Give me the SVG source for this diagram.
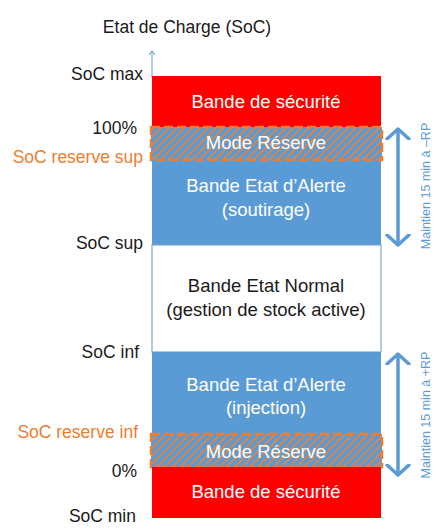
<svg xmlns="http://www.w3.org/2000/svg" width="437" height="530" viewBox="0 0 437 530">
  <defs>
    <pattern id="hatch" patternUnits="userSpaceOnUse" width="5.5" height="5.5" patternTransform="rotate(45)">
      <rect width="5.5" height="5.5" fill="#5B9BD5"/>
      <line x1="1" y1="0" x2="1" y2="5.5" stroke="#E8823A" stroke-width="1.7"/>
    </pattern>
    <marker id="axisHead" markerWidth="8" markerHeight="8" refX="4" refY="4" orient="auto" markerUnits="userSpaceOnUse">
      <path d="M0,1 L4,4 L0,7" fill="none" stroke="#5B9BD5" stroke-width="1"/>
    </marker>
    <marker id="chev" markerWidth="14" markerHeight="26" refX="10" refY="13" orient="auto-start-reverse" markerUnits="userSpaceOnUse">
      <path d="M1,2 L11,13 L1,24" fill="none" stroke="#5B9BD5" stroke-width="3.5" stroke-linecap="round" stroke-linejoin="round"/>
    </marker>
  </defs>
  <style>
    .lbl { font-family: "Liberation Sans", Arial, sans-serif; font-size: 17.5px; fill: #1a1a1a; text-anchor: end; }
    .org { fill: #ED7D31; }
    .band-txt { font-family: "Liberation Sans", Arial, sans-serif; font-size: 18.5px; fill: #ffffff; text-anchor: middle; }
    .dark { fill: #1a1a1a; }
    .side { font-family: "Liberation Sans", Arial, sans-serif; font-size: 12.5px; fill: #5B9BD5; text-anchor: middle; }
    .red { fill: #FF0000; }
    .blue { fill: #5B9BD5; }
    .reserve { fill: url(#hatch); stroke: #ED7D31; stroke-width: 2.5; stroke-dasharray: 9 4; }
  </style>
  <rect width="437" height="530" fill="#ffffff"/>

  <!-- title -->
  <text x="187" y="33" font-family="Liberation Sans, Arial, sans-serif" font-size="17.5" fill="#1a1a1a" text-anchor="middle">Etat de Charge (SoC)</text>

  <!-- axis and holding-time arrows -->
  <g id="connectors">
    <line x1="152" y1="78" x2="152" y2="51" stroke="#5B9BD5" stroke-width="1" marker-end="url(#axisHead)"/>
    <line x1="398" y1="130" x2="398" y2="244" stroke="#5B9BD5" stroke-width="3.5" marker-start="url(#chev)" marker-end="url(#chev)"/>
    <line x1="398" y1="355" x2="398" y2="474" stroke="#5B9BD5" stroke-width="3.5" marker-start="url(#chev)" marker-end="url(#chev)"/>
  </g>

  <!-- bands -->
  <g id="securite-haut">
    <rect class="red" x="152" y="76" width="229" height="51"/>
    <text class="band-txt" x="266" y="108">Bande de sécurité</text>
  </g>
  <g id="alerte-soutirage">
    <rect class="blue" x="152" y="127" width="229" height="118"/>
    <text class="band-txt" x="266" y="192">Bande Etat d’Alerte</text>
    <text class="band-txt" x="266" y="216">(soutirage)</text>
  </g>
  <g id="reserve-haut">
    <rect class="reserve" x="151" y="127" width="231" height="33"/>
    <text class="band-txt" x="266" y="149">Mode Réserve</text>
  </g>
  <g id="etat-normal">
    <rect x="152" y="245" width="229" height="107" fill="#ffffff" stroke="#7FA6CF" stroke-width="1.2"/>
    <text class="band-txt dark" x="266" y="292">Bande Etat Normal</text>
    <text class="band-txt dark" x="266" y="316">(gestion de stock active)</text>
  </g>
  <g id="alerte-injection">
    <rect class="blue" x="152" y="352" width="229" height="115"/>
    <text class="band-txt" x="266" y="391">Bande Etat d’Alerte</text>
    <text class="band-txt" x="266" y="414">(injection)</text>
  </g>
  <g id="reserve-bas">
    <rect class="reserve" x="151" y="434" width="231" height="33"/>
    <text class="band-txt" x="266" y="458">Mode Réserve</text>
  </g>
  <g id="securite-bas">
    <rect class="red" x="152" y="467" width="229" height="51"/>
    <text class="band-txt" x="266" y="498">Bande de sécurité</text>
  </g>

  <!-- level labels -->
  <g id="labels">
    <text class="lbl" x="143" y="80">SoC max</text>
    <text class="lbl" x="137" y="134">100%</text>
    <text class="lbl org" x="143" y="163">SoC reserve sup</text>
    <text class="lbl" x="143" y="249">SoC sup</text>
    <text class="lbl" x="139" y="358">SoC inf</text>
    <text class="lbl org" x="138" y="438">SoC reserve inf</text>
    <text class="lbl" x="137" y="477">0%</text>
    <text class="lbl" x="136" y="522">SoC min</text>
  </g>

  <!-- holding-time notes -->
  <text class="side" transform="translate(430,186) rotate(-90)">Maintien 15 min à –RP</text>
  <text class="side" transform="translate(430,415) rotate(-90)">Maintien 15 min à +RP</text>
</svg>
